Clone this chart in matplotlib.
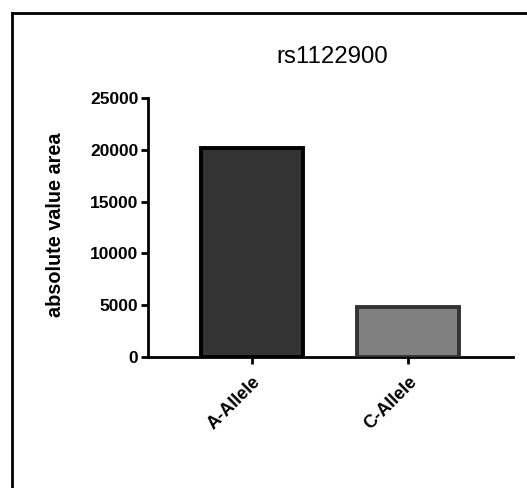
import numpy as np
from matplotlib import pyplot as plt
from matplotlib.lines import Line2D

alleles = ["A-Allele", "C-Allele"]
area = [20200, 4800]
fill_colors = ["#333333", "#808080"]
edge_colors = ["#000000", "#333333"]
y_ticks = [0, 5000, 10000, 15000, 20000, 25000]

plt.rcParams['font.family'] = ['Liberation Sans', 'DejaVu Sans']

fig = plt.figure(figsize=(5.27, 4.88), dpi=100)
W, H = 527, 488

# axes box in pixels: x 148..513, y (top) 98..357
ax = fig.add_axes([148 / W, 1 - 357 / H, (513 - 148) / W, (357 - 98) / H])

x = np.arange(len(alleles))
ax.bar(x, area, width=0.65, color=fill_colors, edgecolor=edge_colors,
       linewidth=2.8, zorder=3)

ax.set_xlim(-0.667, 1.673)
ax.set_ylim(0, 25000)
ax.set_yticks(y_ticks)
ax.set_yticklabels([str(t) for t in y_ticks], fontsize=12.5, fontweight='bold')
ax.set_xticks(x)
ax.set_xticklabels(alleles, fontsize=13, fontweight='bold',
                   rotation=45, ha='right', rotation_mode='anchor')

for side in ['top', 'right']:
    ax.spines[side].set_visible(False)
for side in ['left', 'bottom']:
    ax.spines[side].set_linewidth(2)
ax.tick_params(axis='both', width=2, length=5, pad=2)
ax.tick_params(axis='x', pad=7)

ax.set_ylabel("absolute value area", fontsize=14.3, fontweight='bold')
ax.yaxis.set_label_coords(-0.228, 0.51)
fig.text(332 / W, 1 - 57 / H, "rs1122900", fontsize=17.3, ha='center', va='center')

# frame lines along the left and top edges
fig.add_artist(Line2D([11.5 / W, 11.5 / W], [0, 1 - 13 / H], color='black', linewidth=2,
                      transform=fig.transFigure))
fig.add_artist(Line2D([11.5 / W, 1], [1 - 13 / H, 1 - 13 / H], color='black', linewidth=2,
                      transform=fig.transFigure))

fig.savefig("out.png", dpi=100)
